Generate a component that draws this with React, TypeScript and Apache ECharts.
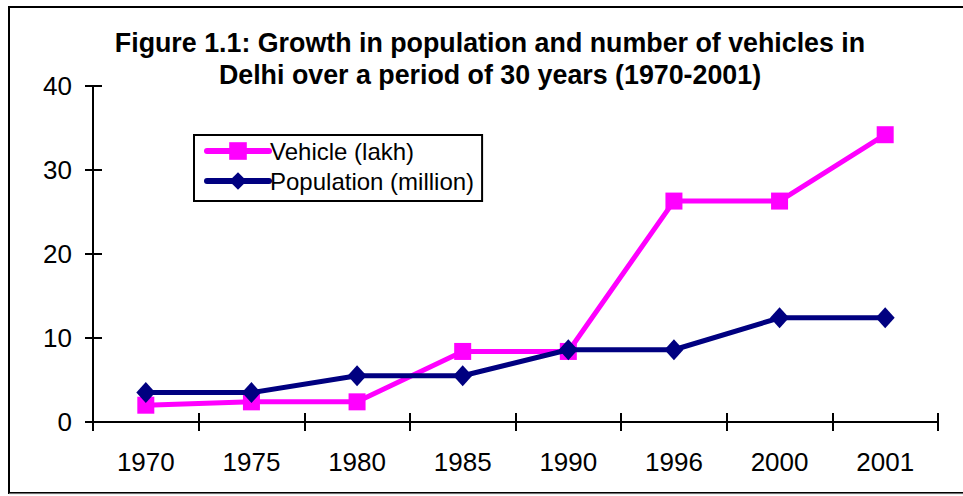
import React, { useEffect, useRef } from "react";
import * as echarts from "echarts";

const categories = ["1970", "1975", "1980", "1985", "1990", "1996", "2000", "2001"];
const vehicleLakh = [2.0, 2.4, 2.4, 8.4, 8.4, 26.3, 26.3, 34.2];
const populationMillion = [3.5, 3.5, 5.5, 5.5, 8.6, 8.6, 12.4, 12.4];
const titleText =
  "Figure 1.1: Growth in population and number of vehicles in\nDelhi over a period of 30 years (1970-2001)";

const FONT = "Arial, 'Liberation Sans', sans-serif";

export default function App() {
  const ref = useRef<HTMLDivElement>(null);
  useEffect(() => {
    if (!ref.current) return;
    const chart = echarts.init(ref.current, undefined, { renderer: "svg" });
    const axisLine = { show: true, lineStyle: { color: "#000", width: 2 } };
    chart.setOption({
      animation: false,
      backgroundColor: "#fff",
      title: {
        text: titleText,
        left: 485,
        top: 22,
        textAlign: "center",
        textStyle: {
          fontFamily: FONT,
          fontSize: 26.8,
          fontWeight: "bold",
          color: "#000",
          lineHeight: 32,
          align: "center",
        },
      },
      legend: {
        orient: "vertical",
        left: 194,
        top: 135,
        padding: [4, 8, 8, 10],
        itemGap: 6,
        itemWidth: 62,
        itemHeight: 22,
        borderColor: "#000",
        borderWidth: 2,
        lineStyle: { width: 6, cap: "round" },
        textStyle: { fontFamily: FONT, fontSize: 24, color: "#000", padding: [0, 0, 0, -4] },
        data: ["Vehicle (lakh)", "Population (million)"],
      },
      graphic: [
        {
          type: "rect",
          shape: { x: 9, y: 7, width: 1100, height: 486 },
          style: { fill: "none", stroke: "#000", lineWidth: 2 },
          silent: true,
        },
        {
          type: "line",
          shape: { x1: 9, y1: 494, x2: 963, y2: 494 },
          style: { stroke: "#ddd", lineWidth: 1 },
          silent: true,
        },
      ],
      grid: { left: 93, right: 25, top: 86, bottom: 74, containLabel: false },
      xAxis: [
        {
          type: "category",
          data: categories,
          boundaryGap: true,
          axisLine,
          axisTick: { show: true, length: 9, lineStyle: { color: "#000", width: 2 } },
          axisLabel: { fontFamily: FONT, fontSize: 26, color: "#000", margin: 27 },
          splitLine: { show: false },
        },
        {
          type: "category",
          data: categories,
          position: "bottom",
          boundaryGap: true,
          axisLine: { show: false },
          axisTick: { show: true, inside: true, length: 9, lineStyle: { color: "#000", width: 2 } },
          axisLabel: { show: false },
          splitLine: { show: false },
        },
      ],
      yAxis: [
        {
          type: "value",
          min: 0,
          max: 40,
          interval: 10,
          axisLine,
          axisTick: { show: true, length: 8, lineStyle: { color: "#000", width: 2 } },
          axisLabel: { fontFamily: FONT, fontSize: 26, color: "#000", margin: 21 },
          splitLine: { show: false },
        },
        {
          type: "value",
          min: 0,
          max: 40,
          interval: 10,
          position: "left",
          offset: 0,
          axisLine: { show: false },
          axisTick: { show: true, inside: true, length: 9, lineStyle: { color: "#000", width: 2 } },
          axisLabel: { show: false },
          splitLine: { show: false },
        },
      ],
      series: [
        {
          name: "Vehicle (lakh)",
          type: "line",
          data: vehicleLakh,
          symbol: "rect",
          symbolSize: 17,
          lineStyle: { color: "#FF00FF", width: 5 },
          itemStyle: { color: "#FF00FF" },
          z: 2,
        },
        {
          name: "Population (million)",
          type: "line",
          data: populationMillion,
          symbol: "diamond",
          symbolSize: [19, 21],
          lineStyle: { color: "#000080", width: 5 },
          itemStyle: { color: "#000080" },
          z: 3,
        },
      ],
    });
    return () => chart.dispose();
  }, []);
  return (
    <div
      ref={ref}
      style={{ position: "fixed", left: 0, top: 0, width: 963, height: 496 }}
    />
  );
}
